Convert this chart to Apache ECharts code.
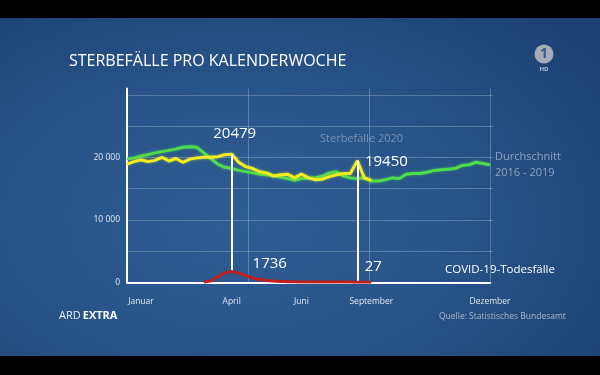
<!DOCTYPE html>
<html><head><meta charset="utf-8">
<script src="https://cdn.jsdelivr.net/npm/echarts@6/dist/echarts.min.js"></script>
<style>
html,body{margin:0;padding:0;background:#000;width:600px;height:375px;overflow:hidden}
#bg{position:absolute;left:0;top:18px;width:600px;height:338px;background:radial-gradient(ellipse 75% 85% at 40% 60%, #2e5d93 0%, #29548a 45%, #1d4172 100%)}
#chart{position:absolute;left:0;top:0;width:600px;height:375px}
</style></head><body>
<div id="bg"></div><div id="chart"></div>
<script>
// Week positions along the x axis (category index 0..52)
const weeks = [1,2,3,4,5,6,7,8,9,10,11,12,13,14,15,16,17,18,19,20,21,22,23,24,25,26,27,28,29,30,31,32,33,34,35,36,37,38,39,40,41,42,43,44,45,46,47,48,49,50,51,52,53];
const monthTickIdx = [2, 15, 25, 35, 52];
const monthNames = ['Januar', 'April', 'Juni', 'September', 'Dezember'];
const yTickValues = [0, 10000, 20000];
const yTickLabels = ['0', '10 000', '20 000'];

// Durchschnitt 2016 - 2019
const avg2016_2019 = [19700,19900,20200,20400,20700,20900,21100,21300,21600,21700,
  21600,20700,19800,18900,18400,18200,17900,17700,17500,17300,
  17200,17100,16800,16600,16300,16600,16700,16700,17000,17500,
  17700,17000,16700,16600,16700,16200,16200,16400,16700,16600,
  17300,17400,17400,17600,17900,18000,18100,18200,18700,18800,
  19200,19000,18800];
// Sterbefälle 2020
const deaths2020 = [18900,19300,19600,19300,19500,20000,19400,19800,19200,19700,
  19900,20000,20000,20100,20400,20479,19200,18500,18200,17700,
  17500,17000,17200,17300,16700,17300,16700,16400,16500,16900,
  17200,17400,17400,19450,16700,16300];
// COVID-19-Todesfälle
const covid2020 = [null,null,null,null,null,null,null,null,null,null,
  null,20,200,850,1500,1736,1450,1050,700,450,
  300,200,140,100,70,50,40,35,30,30,
  30,28,28,27,27,25];
// annotated weeks (indices)
const annotated = [15, 33];

const chart = echarts.init(document.getElementById('chart'), null, {renderer: 'canvas'});
const FONT = 'Open Sans';
const gridColor = 'rgba(255,255,255,0.24)';

const option = {
  animation: false,
  textStyle: {fontFamily: FONT},
  title: {
    text: 'STERBEFÄLLE PRO KALENDERWOCHE',
    left: 64, top: 48,
    textStyle: {color: '#ffffff', fontSize: 16, fontWeight: 'normal', fontFamily: FONT}
  },
  grid: [
    {left: 127, right: 110, top: 88.5, bottom: 92.7},
    {left: 127, right: 107, top: 94.8, bottom: 92.7}
  ],
  xAxis: [
    {
      type: 'category', gridIndex: 0, data: weeks, boundaryGap: false,
      axisLine: {show: true, lineStyle: {color: '#ffffff', width: 2}},
      axisTick: {show: false},
      splitLine: {show: false},
      axisLabel: {
        interval: 0, margin: 15, color: '#dfe6f0', fontSize: 8.5, fontFamily: FONT,
        formatter: function (v, i) {
          const k = monthTickIdx.indexOf(i);
          return k >= 0 ? monthNames[k] : '';
        }
      }
    },
    {
      type: 'value', gridIndex: 0, min: 0, max: 3, interval: 1,
      axisLine: {show: false}, axisTick: {show: false}, axisLabel: {show: false},
      splitLine: {show: true, lineStyle: {color: gridColor, width: 1}}
    },
    {type: 'value', gridIndex: 1, show: false, min: 0, max: 1}
  ],
  yAxis: [
    {
      type: 'value', gridIndex: 0, min: 0, max: 31000, interval: 5000,
      axisLine: {show: true, lineStyle: {color: '#ffffff', width: 2}},
      axisTick: {show: false},
      splitLine: {show: false},
      axisLabel: {
        margin: 7, color: '#dfe6f0', fontSize: 8.5, fontFamily: FONT,
        formatter: function (v) {
          const k = yTickValues.indexOf(v);
          return k >= 0 ? yTickLabels[k] : '';
        }
      }
    },
    {
      type: 'value', gridIndex: 1, min: 0, max: 30000, interval: 5000,
      axisLine: {show: false}, axisTick: {show: false}, axisLabel: {show: false},
      splitLine: {show: true, lineStyle: {color: gridColor, width: 1}}
    }
  ],
  series: [
    {
      name: 'Durchschnitt 2016 - 2019', type: 'line', xAxisIndex: 0, yAxisIndex: 0,
      data: avg2016_2019, symbol: 'none', z: 3,
      lineStyle: {color: '#4fdc4a', width: 3, shadowColor: 'rgba(80,230,80,0.5)', shadowBlur: 3},
      endLabel: {
        show: true, distance: 5, formatter: 'Durchschnitt\n2016 - 2019',
        color: '#90a2bf', fontSize: 11, lineHeight: 16, fontFamily: FONT
      }
    },
    {
      name: 'Sterbefälle 2020', type: 'line', xAxisIndex: 0, yAxisIndex: 0,
      data: deaths2020, symbol: 'none', z: 4,
      lineStyle: {color: '#f4ec1f', width: 3, shadowColor: 'rgba(250,240,40,0.5)', shadowBlur: 3},
      markLine: {
        silent: true, symbol: ['none', 'none'], label: {show: false},
        lineStyle: {color: '#ffffff', width: 2, type: 'solid'},
        data: annotated.map(i => [{coord: [i, deaths2020[i]]}, {coord: [i, covid2020[i]]}])
      },
      markPoint: {
        symbol: 'circle', symbolSize: 0, silent: true,
        label: {show: true, color: '#ffffff', fontSize: 15, fontFamily: FONT, formatter: '{c}'},
        data: [
          {coord: [annotated[0], deaths2020[annotated[0]]], value: deaths2020[annotated[0]], label: {offset: [3, -21]}},
          {coord: [annotated[1], deaths2020[annotated[1]]], value: deaths2020[annotated[1]], label: {offset: [29, 1]}}
        ]
      }
    },
    {
      name: 'COVID-19-Todesfälle', type: 'line', xAxisIndex: 0, yAxisIndex: 0,
      data: covid2020, symbol: 'none', z: 5, smooth: 0.3, smoothMonotone: 'x',
      lineStyle: {color: '#c01f1c', width: 3},
      markPoint: {
        symbol: 'circle', symbolSize: 0, silent: true,
        label: {show: true, color: '#ffffff', fontSize: 15, fontFamily: FONT, formatter: '{c}'},
        data: [
          {coord: [annotated[0], covid2020[annotated[0]]], value: covid2020[annotated[0]], label: {offset: [38, -8]}},
          {coord: [annotated[1], covid2020[annotated[1]]], value: covid2020[annotated[1]], label: {offset: [16, -15]}}
        ]
      }
    }
  ],
  graphic: [
    {type: 'text', left: 320, top: 133, style: {text: 'Sterbefälle 2020', fill: '#7b91b4', fontSize: 11, fontFamily: FONT}},
    {type: 'text', left: 445, top: 264, style: {text: 'COVID-19-Todesfälle', fill: '#ffffff', fontSize: 11.5, fontFamily: FONT}},
    {type: 'text', left: 59, top: 310, style: {
      text: '{a|ARD}{b|EXTRA}', fontFamily: FONT,
      rich: {a: {fill: '#e8eef6', fontSize: 11, fontFamily: FONT, padding: [0, 2, 0, 0]}, b: {fill: '#ffffff', fontSize: 11, fontWeight: 'bold', fontFamily: FONT}}
    }},
    {type: 'text', left: 439, top: 312, style: {text: 'Quelle: Statistisches Bundesamt', fill: '#a9b6cc', fontSize: 8.5, fontFamily: FONT}},
    {type: 'circle', shape: {cx: 544, cy: 54, r: 9.5}, style: {fill: '#a3acb8'}},
    {type: 'text', x: 544, y: 54, style: {text: '1', fill: '#3a5a84', fontSize: 14, fontWeight: 'bold', fontFamily: FONT, align: 'center', verticalAlign: 'middle'}},
    {type: 'text', x: 544, y: 69, style: {text: 'HD', fill: '#b8c2d0', fontSize: 6, fontWeight: 'bold', fontFamily: FONT, align: 'center', verticalAlign: 'middle'}}
  ]
};
chart.setOption(option);
</script>
</body></html>
